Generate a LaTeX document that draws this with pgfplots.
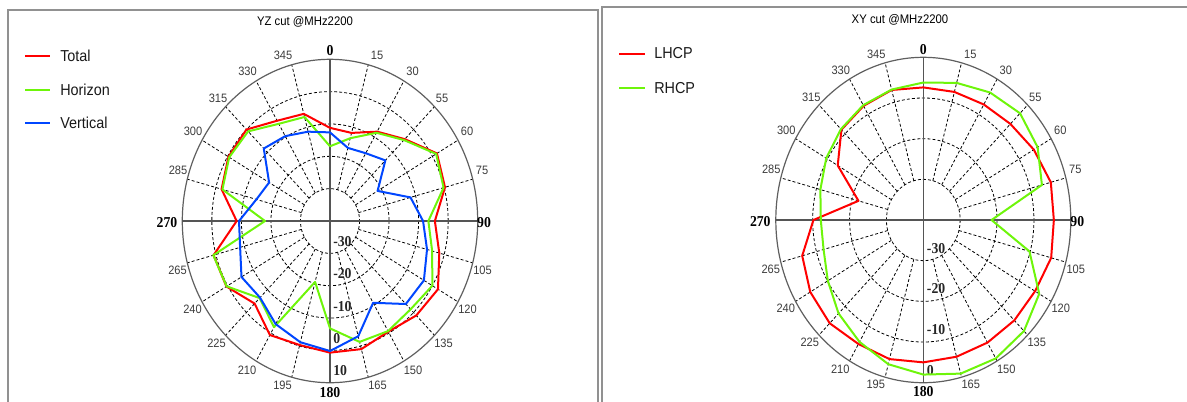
\documentclass[border=0pt]{standalone}
\usepackage{fontspec}
\setmainfont{Liberation Sans}
\newfontfamily\lserif{Liberation Serif}
\usepackage{graphicx}
\usepackage{pgfplots}
\usepackage{pgfplotstable}
\pgfplotsset{compat=1.18}

\definecolor{cRed}{RGB}{255,0,0}
\definecolor{cGrn}{RGB}{110,245,10}
\definecolor{cBlu}{RGB}{0,70,255}
\definecolor{frm}{RGB}{145,145,145}
\definecolor{rimc}{RGB}{95,95,95}
\definecolor{axc}{RGB}{85,85,85}
\definecolor{angc}{RGB}{60,60,60}

% text in the reference is stretched vertically
\newcommand\st[1]{\scalebox{1}[1.1]{#1}}

% angle (deg, clockwise from top) and gain (dB)
\pgfplotstableread{
a    tot    hor    ver
0    -11.2  -16.9  -12.6
15   -11.8  -13.5  -16.6
30   -8.1   -8.5   -15.8
45   -4.2   -4.6   -13.5
60   1.8    1.5    -21.4
75   0.3    -0.2   -11.8
90   -4.5   -6.7   -8.5
105  -1.7   -4.2   -6.0
120  2.2    0.0    -3.3
135  1.3    -1.4   -3.7
150  -0.5   -0.7   -10.8
165  1.0    -1.3   -3.1
180  0.7    -6.8   0.2
195  -0.3   -20.5  -1.2
210  0.7    -2.1   -3.2
225  -3.9   -6.3   -6.5
240  0.5    0.4    -5.4
255  0.8    0.9    -8.5
270  -8.4   -18.0  -9.2
285  -2.0   -2.3   -14.2
300  -0.3   -0.6   -16.2
315  0.0    -0.8   -8.3
330  -4.2   -5.3   -9.7
345  -5.7   -6.7   -11.4
360  -11.2  -16.9  -12.6
}\yzdata

\pgfplotstableread{
a    lhcp   rhcp
0    -7.4   -6.2
15   -7.4   -5.1
30   -7.2   -3.8
45   -6.6   -2.9
60   -5.4   -4.2
75   -4.2   -6.7
90   -4.6   -21.5
105  -4.1   -10.2
120  -5.0   -3.7
135  -5.1   -1.4
150  -5.2   -0.7
165  -5.2   -0.9
180  -5.0   -2.0
195  -4.6   -3.3
210  -4.8   -5.4
225  -4.1   -7.5
240  -4.6   -10.1
255  -6.0   -12.0
270  -10.2  -12.2
285  -21.8  -11.1
300  -13.2  -9.6
315  -8.6   -8.4
330  -7.6   -7.4
345  -6.9   -6.8
360  -7.4   -6.2
}\xydata

\tikzset{
  gridl/.style={black, line width=0.6pt, dash pattern=on 2.2pt off 1.6pt},
  angl/.style={font=\fontsize{8.3}{9}\selectfont, text=angc, inner sep=0pt},
  boldl/.style={font=\lserif\bfseries\fontsize{10.3}{12}\selectfont, text=black, inner sep=0pt},
  radl/.style={font=\lserif\bfseries\fontsize{10.3}{12}\selectfont, text=black!85, inner sep=0pt, anchor=base west},
  legt/.style={font=\fontsize{10.8}{12}\selectfont, text=black!90, inner sep=0pt, anchor=west},
  titl/.style={font=\fontsize{8.5}{10}\selectfont, inner sep=0pt},
}

% angle labels around a plot, offsets in px from the centre
\newcommand\anglabels{%
  \foreach \t/\x/\y in {15/47/-165.5, 30/82.5/-149.5, 55/112/-122.7, 60/137/-89.3,
      75/152/-50.3, 105/152.5/49, 120/137.5/88, 135/113.5/122, 150/83/149,
      165/47.5/164, 195/-47.5/164, 210/-83/149, 225/-113.5/122, 240/-137.5/88,
      265/-152.5/49, 285/-152/-50.3, 300/-137/-89.3, 315/-112/-122.7,
      330/-82.5/-149.5, 345/-47/-165.5}
    \node[angl] at (\x,\y) {\st{\t}};
  \node[boldl] at (0,-170.5) {\st{0}};
  \node[boldl] at (154,1.7) {\st{90}};
  \node[boldl] at (0,172) {\st{180}};
  \node[boldl] at (-163,1.7) {\st{270}};
}

\begin{document}
\begin{tikzpicture}[x=0.75pt, y=-0.75pt]
\useasboundingbox (0,0) rectangle (1187,401);

% panels
\draw[frm, line width=2pt] (8,410) -- (8,10) -- (598,10) -- (598,410);
\draw[frm, line width=2pt] (602,410) -- (602,7) -- (1200,7);
\node[titl] at (305,22) {\st{YZ cut @MHz2200}};
\node[titl] at (900,20) {\st{XY cut @MHz2200}};

% legends
\draw[cRed, line width=1.5pt] (25,56) -- (50,56);
\draw[cGrn, line width=1.5pt] (25,89.5) -- (50,89.5);
\draw[cBlu, line width=1.5pt] (25,123) -- (50,123);
\node[legt] at (60,56) {\st{Total}};
\node[legt] at (60,89.5) {\st{Horizon}};
\node[legt] at (60,123) {\st{Vertical}};
\draw[cRed, line width=1.5pt] (619,53.5) -- (645,53.5);
\draw[cGrn, line width=1.5pt] (619,88) -- (645,88);
\node[legt] at (654,53.5) {\st{LHCP}};
\node[legt] at (654,88) {\st{RHCP}};

% YZ grid
\begin{scope}[shift={(330,221)}]
  \foreach \r in {1,2,3,4}
    \draw[gridl] (0,0) ellipse[x radius={29.54*\r}, y radius={32.34*\r}];
  \foreach \a in {15,30,45,60,75,105,120,135,150,165,195,210,225,240,255,285,300,315,330,345}
    \draw[gridl] ({29.54*sin(\a)},{-32.34*cos(\a)}) -- ({147.7*sin(\a)},{-161.7*cos(\a)});
  \draw[rimc, line width=0.9pt] (0,0) ellipse[x radius=147.7, y radius=161.7];
  \draw[axc, line width=0.8pt] (-147.7,0) -- (147.7,0) (0,-161.7) -- (0,161.7);
  \anglabels
  \foreach \k/\t in {1/-30,2/-20,3/-10,4/0,5/10}
    \node[radl] at (3,{32.34*\k-7}) {\st{\t}};
\end{scope}

% XY grid
\begin{scope}[shift={(923.3,220)}]
  \foreach \r in {1,2,3}
    \draw[gridl] (0,0) ellipse[x radius={36.875*\r}, y radius={40.675*\r}];
  \foreach \a in {15,30,45,60,75,105,120,135,150,165,195,210,225,240,255,285,300,315,330,345}
    \draw[gridl] ({36.875*sin(\a)},{-40.675*cos(\a)}) -- ({147.5*sin(\a)},{-162.7*cos(\a)});
  \draw[rimc, line width=0.9pt] (0,0) ellipse[x radius=147.5, y radius=162.7];
  \draw[axc, line width=0.8pt] (-147.5,0) -- (147.5,0) (0,-162.7) -- (0,162.7);
  \anglabels
  \foreach \k/\t in {1/-30,2/-20,3/-10,4/0}
    \node[radl] at (3.4,{40.675*\k-7.5}) {\st{\t}};
\end{scope}

% YZ data: radius = gain + 40
\begin{axis}[hide axis, at={(247.5pt,-165.75pt)}, anchor=center,
    x=2.2155pt, y=2.4255pt, xmin=-50, xmax=50, ymin=-50, ymax=50,
    clip=false, every axis plot/.append style={line width=1.5pt, line join=round}]
\addplot[cRed, data cs=polar] table[x expr={90-\thisrow{a}}, y expr={\thisrow{tot}+40}] {\yzdata};
\addplot[cGrn, data cs=polar] table[x expr={90-\thisrow{a}}, y expr={\thisrow{hor}+40}] {\yzdata};
\addplot[cBlu, data cs=polar] table[x expr={90-\thisrow{a}}, y expr={\thisrow{ver}+40}] {\yzdata};
\end{axis}

% XY data
\begin{axis}[hide axis, at={(692.475pt,-165pt)}, anchor=center,
    x=2.7656pt, y=3.0506pt, xmin=-40, xmax=40, ymin=-40, ymax=40,
    clip=false, every axis plot/.append style={line width=1.5pt, line join=round}]
\addplot[cRed, data cs=polar] table[x expr={90-\thisrow{a}}, y expr={\thisrow{lhcp}+40}] {\xydata};
\addplot[cGrn, data cs=polar] table[x expr={90-\thisrow{a}}, y expr={\thisrow{rhcp}+40}] {\xydata};
\end{axis}
\end{tikzpicture}
\end{document}
